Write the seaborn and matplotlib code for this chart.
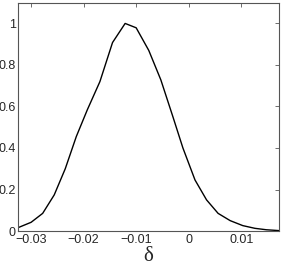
import numpy as np
import pandas as pd
import matplotlib
matplotlib.use('Agg')
import matplotlib.pyplot as plt
import seaborn as sns

# values
delta = [-0.0325, -0.0300, -0.0278, -0.0256, -0.0235, -0.0214, -0.0193, -0.0169,
         -0.0145, -0.0121, -0.0100, -0.0076, -0.0053, -0.0030, -0.0011, 0.0012,
         0.0034, 0.0056, 0.0079, 0.0103, 0.0126, 0.0148, 0.0172]
density = [0.016, 0.042, 0.085, 0.174, 0.300, 0.455, 0.584, 0.720,
           0.908, 1.000, 0.979, 0.870, 0.728, 0.550, 0.400, 0.246,
           0.150, 0.085, 0.050, 0.026, 0.013, 0.006, 0.002]
xticks = [-0.03, -0.02, -0.01, 0, 0.01]
xticklabels = ['\u22120.03', '\u22120.02', '\u22120.01', '0', '0.01']
yticks = [0, 0.2, 0.4, 0.6, 0.8, 1]
yticklabels = ['0', '0.2', '0.4', '0.6', '0.8', '1']

df = pd.DataFrame({'delta': delta, 'density': density})

sns.set_style('white')
plt.rcParams['font.family'] = ['Liberation Sans', 'DejaVu Sans']

fig = plt.figure(figsize=(2.81, 2.68), dpi=100)
ax = fig.add_axes([0.064, 0.138, 0.929, 0.852])
sns.lineplot(data=df, x='delta', y='density', color='black', linewidth=1.0, ax=ax)

ax.set_xlim(-0.0325, 0.0172)
ax.set_ylim(0, 1.1)
ax.set_xticks(xticks)
ax.set_xticklabels(xticklabels)
ax.set_yticks(yticks)
ax.set_yticklabels(yticklabels)
ax.tick_params(direction='in', length=3, width=0.6, color='#555555', labelsize=9,
               top=True, right=True, pad=2)
ax.tick_params(axis='y', pad=1.5)
for s in ax.spines.values():
    s.set_color('#555555')
    s.set_linewidth(0.8)
ax.set_ylabel('')
ax.set_xlabel('\u03b4', family=['Liberation Serif', 'DejaVu Serif'], fontsize=15, labelpad=1)

fig.savefig('out.png', dpi=100)
